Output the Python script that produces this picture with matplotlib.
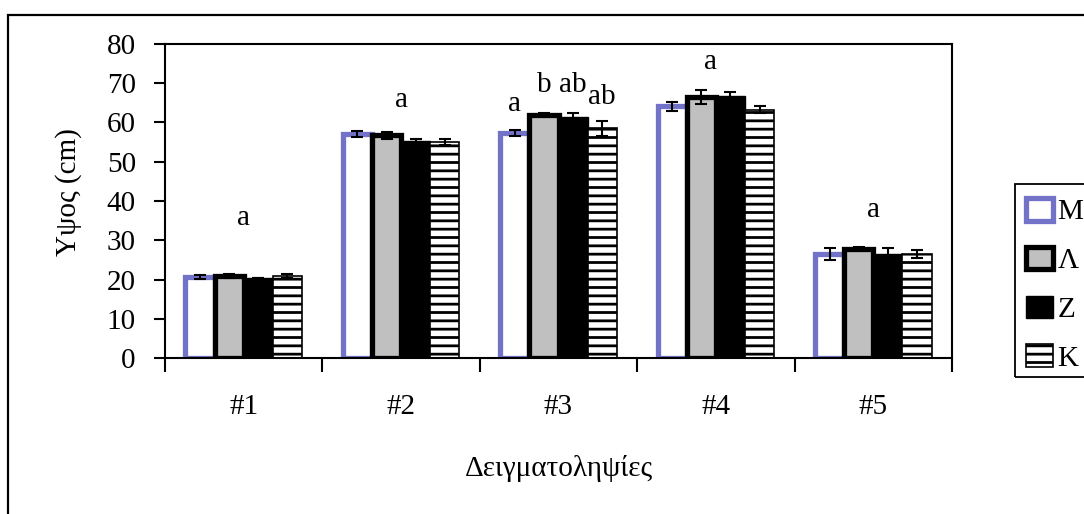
import matplotlib
matplotlib.use("Agg")
import matplotlib.pyplot as plt
import numpy as np
from matplotlib.patches import Rectangle

plt.rcParams['font.family'] = ['Liberation Serif', 'DejaVu Serif']
plt.rcParams['hatch.linewidth'] = 2.0
plt.rcParams['hatch.color'] = 'black'

categories = ['#1', '#2', '#3', '#4', '#5']
series_names = ['Μ', 'Λ', 'Ζ', 'Κ']
M_vals = [20.7, 57.0, 57.4, 64.1, 26.4]
L_vals = [20.9, 56.8, 62.0, 66.6, 27.8]
Z_vals = [20.4, 55.4, 61.5, 66.7, 26.6]
K_vals = [20.9, 55.0, 58.5, 63.2, 26.5]
M_err = [0.5, 0.8, 0.8, 1.2, 1.5]
L_err = [0.6, 0.9, 0.3, 1.8, 0.4]
Z_err = [0.0, 0.3, 1.0, 1.0, 1.5]
K_err = [0.6, 0.8, 2.0, 0.9, 1.0]

# significance letters
letter_groups = [0, 1, 2, 2, 2, 2, 3, 4]
letter_offsets = [0.0, 0.0, -1.5, -0.5, 0.5, 1.5, -0.2, 0.0]
letter_text = ['a', 'a', 'a', 'b', 'ab', 'ab', 'a', 'a']
letter_y = [35.7, 65.7, 64.7, 69.5, 69.5, 66.4, 75.4, 37.7]

FS = 21

fig = plt.figure(figsize=(10.84, 5.14), dpi=100)
ax = fig.add_axes([165/1084, 1-358/514, (952-165)/1084, (358-44)/514])

x = np.arange(len(categories))
w = 0.185
styles = [
    dict(color='white', edgecolor='#7272c8', linewidth=3.8),
    dict(color='#c0c0c0', edgecolor='black', linewidth=3.8),
    dict(color='black', edgecolor='black', linewidth=1.0),
    dict(color='white', edgecolor='black', linewidth=1.2, hatch='--'),
]
vals = [M_vals, L_vals, Z_vals, K_vals]
errs = [M_err, L_err, Z_err, K_err]
handles = []
for i in range(4):
    b = ax.bar(x + (i - 1.5) * w, vals[i], w, label=series_names[i], zorder=2, **styles[i])
    handles.append(b)
    ax.errorbar(x + (i - 1.5) * w, vals[i], yerr=errs[i], fmt='none', ecolor='black',
                elinewidth=1.5, capsize=4.5, capthick=1.5, zorder=3)

for g, off, t, yy in zip(letter_groups, letter_offsets, letter_text, letter_y):
    ax.text(g + off * w, yy, t, ha='center', va='center', fontsize=FS)

ax.set_xlim(-0.5, 4.5)
ax.set_ylim(0, 80)
ax.set_yticks(np.arange(0, 81, 10))
ax.tick_params(axis='y', direction='out', length=8, width=1.5, pad=13, labelsize=FS)
ax.set_xticks(np.arange(-0.5, 5, 1.0))
ax.set_xticklabels([])
ax.tick_params(axis='x', which='major', direction='out', length=10, width=1.5)
ax.set_xticks(x, minor=True)
ax.set_xticklabels(categories, minor=True)
ax.tick_params(axis='x', which='minor', length=0, pad=26, labelsize=FS)
for s in ax.spines.values():
    s.set_linewidth(1.5)

ax.set_xlabel('Δειγματοληψίες', fontsize=FS)
ax.xaxis.set_label_coords(0.5, -0.31)
ax.set_ylabel('Υψος (cm)', fontsize=FS, va='center')
ax.yaxis.set_label_coords(-0.122, 0.53)

# outer chart frame (cut off at right and bottom)
fig.patches.append(Rectangle((8/1084, -0.2), 1.5, 0.2 + (1 - 15/514),
                             transform=fig.transFigure, fill=False, lw=1.6, ec='black'))
# legend frame (cut off at right)
fig.patches.append(Rectangle((1015/1084, 1-377/514), 0.5, (377-184)/514,
                             transform=fig.transFigure, fill=False, lw=1.3, ec='black'))

leg = ax.legend(handles=handles, loc='upper left', bbox_to_anchor=(1026/1084, 1-198/514),
                bbox_transform=fig.transFigure, frameon=False, fontsize=FS,
                handlelength=0.93, handleheight=0.82, handletextpad=0.15,
                labelspacing=0.73, borderpad=0, borderaxespad=0)

fig.savefig('out.png', dpi=100)
